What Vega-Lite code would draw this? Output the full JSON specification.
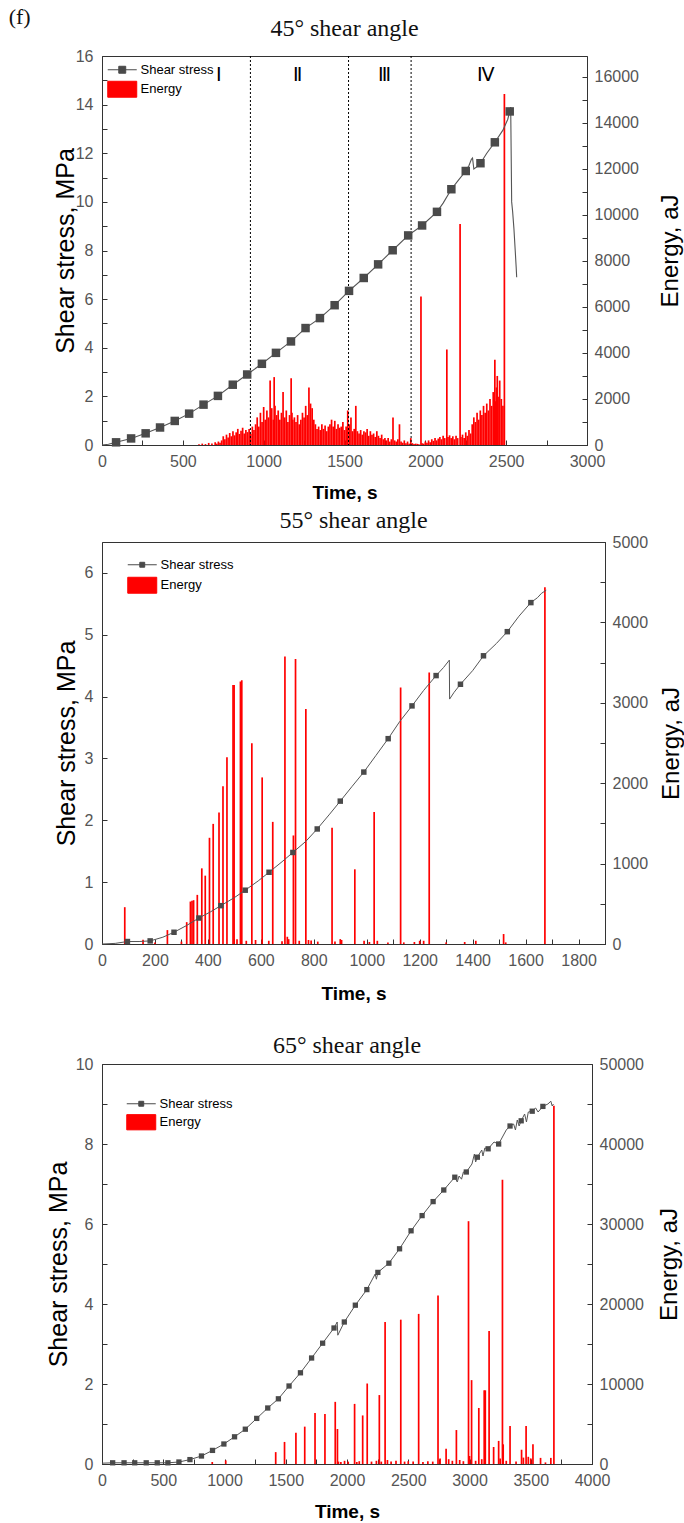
{
  "$schema": "https://vega.github.io/schema/vega-lite/v6.json",
  "background": "white",
  "padding": {"left": 8, "top": 5, "right": 0, "bottom": 0},
  "title": {"text": "(f)", "anchor": "start", "offset": -12, "dx": -37, "fontSize": 22, "font": "Liberation Serif", "fontWeight": "normal", "color": "#111"},
  "datasets": {
    "s1": [{"t":0,"s":0,"m":0},{"t":40,"s":0.03,"m":0},{"t":87,"s":0.11,"m":1},{"t":180,"s":0.27,"m":1},{"t":270,"s":0.48,"m":1},{"t":359,"s":0.72,"m":1},{"t":450,"s":0.99,"m":1},{"t":539,"s":1.29,"m":1},{"t":628,"s":1.66,"m":1},{"t":717,"s":2.02,"m":1},{"t":809,"s":2.48,"m":1},{"t":898,"s":2.9,"m":1},{"t":989,"s":3.34,"m":1},{"t":1076,"s":3.79,"m":1},{"t":1169,"s":4.26,"m":1},{"t":1259,"s":4.81,"m":1},{"t":1348,"s":5.22,"m":1},{"t":1439,"s":5.75,"m":1},{"t":1528,"s":6.34,"m":1},{"t":1619,"s":6.87,"m":1},{"t":1708,"s":7.43,"m":1},{"t":1798,"s":8.01,"m":1},{"t":1894,"s":8.62,"m":1},{"t":1980,"s":9.03,"m":1},{"t":2072,"s":9.59,"m":1},{"t":2110,"s":9.95,"m":0},{"t":2161,"s":10.52,"m":1},{"t":2200,"s":10.85,"m":0},{"t":2250,"s":11.27,"m":1},{"t":2270,"s":11.5,"m":0},{"t":2285,"s":11.75,"m":0},{"t":2292,"s":11.8,"m":0},{"t":2300,"s":11.35,"m":0},{"t":2320,"s":11.45,"m":0},{"t":2341,"s":11.59,"m":1},{"t":2380,"s":12.0,"m":0},{"t":2430,"s":12.45,"m":1},{"t":2480,"s":12.95,"m":0},{"t":2510,"s":13.4,"m":0},{"t":2522,"s":13.72,"m":1},{"t":2528,"s":13.9,"m":0},{"t":2534,"s":10.0,"m":0},{"t":2540,"s":9.6,"m":0},{"t":2548,"s":8.9,"m":0},{"t":2556,"s":8.0,"m":0},{"t":2562,"s":7.3,"m":0},{"t":2565,"s":6.9,"m":0}],
    "e1": [{"t":600,"E":30},{"t":620,"E":60},{"t":640,"E":40},{"t":660,"E":90},{"t":680,"E":70},{"t":700,"E":120},{"t":710,"E":60},{"t":720,"E":150},{"t":730,"E":100},{"t":740,"E":200},{"t":750,"E":380},{"t":760,"E":250},{"t":770,"E":450},{"t":780,"E":330},{"t":790,"E":520},{"t":800,"E":380},{"t":810,"E":600},{"t":820,"E":420},{"t":830,"E":550},{"t":840,"E":700},{"t":850,"E":480},{"t":860,"E":620},{"t":870,"E":750},{"t":880,"E":500},{"t":890,"E":650},{"t":900,"E":560},{"t":910,"E":700},{"t":920,"E":480},{"t":930,"E":800},{"t":940,"E":650},{"t":950,"E":900},{"t":960,"E":1200},{"t":970,"E":800},{"t":980,"E":1400},{"t":990,"E":1000},{"t":1000,"E":1650},{"t":1010,"E":1100},{"t":1020,"E":1500},{"t":1030,"E":1200},{"t":1040,"E":2800},{"t":1045,"E":1300},{"t":1050,"E":1600},{"t":1060,"E":1100},{"t":1065,"E":2950},{"t":1070,"E":1700},{"t":1080,"E":1300},{"t":1090,"E":1500},{"t":1100,"E":1100},{"t":1110,"E":1400},{"t":1120,"E":2300},{"t":1130,"E":1200},{"t":1140,"E":1500},{"t":1150,"E":1000},{"t":1160,"E":1300},{"t":1170,"E":2900},{"t":1175,"E":1400},{"t":1180,"E":1100},{"t":1190,"E":1200},{"t":1200,"E":1000},{"t":1210,"E":1300},{"t":1220,"E":900},{"t":1230,"E":1100},{"t":1240,"E":1400},{"t":1250,"E":1200},{"t":1260,"E":1700},{"t":1270,"E":1300},{"t":1280,"E":2500},{"t":1290,"E":1800},{"t":1300,"E":1600},{"t":1310,"E":1100},{"t":1320,"E":900},{"t":1330,"E":700},{"t":1340,"E":800},{"t":1350,"E":650},{"t":1360,"E":900},{"t":1370,"E":700},{"t":1380,"E":850},{"t":1390,"E":600},{"t":1400,"E":800},{"t":1410,"E":900},{"t":1420,"E":1100},{"t":1430,"E":800},{"t":1440,"E":1050},{"t":1450,"E":700},{"t":1460,"E":900},{"t":1470,"E":750},{"t":1480,"E":800},{"t":1490,"E":1000},{"t":1500,"E":650},{"t":1510,"E":800},{"t":1520,"E":1500},{"t":1530,"E":900},{"t":1540,"E":1200},{"t":1550,"E":600},{"t":1560,"E":700},{"t":1570,"E":1700},{"t":1580,"E":600},{"t":1590,"E":500},{"t":1600,"E":650},{"t":1610,"E":450},{"t":1620,"E":600},{"t":1630,"E":550},{"t":1640,"E":700},{"t":1650,"E":400},{"t":1660,"E":600},{"t":1670,"E":450},{"t":1680,"E":500},{"t":1690,"E":350},{"t":1700,"E":600},{"t":1710,"E":400},{"t":1720,"E":300},{"t":1730,"E":450},{"t":1740,"E":250},{"t":1750,"E":300},{"t":1760,"E":200},{"t":1770,"E":300},{"t":1780,"E":150},{"t":1790,"E":250},{"t":1800,"E":1200},{"t":1810,"E":200},{"t":1820,"E":150},{"t":1830,"E":250},{"t":1840,"E":900},{"t":1850,"E":150},{"t":1860,"E":100},{"t":1870,"E":200},{"t":1880,"E":80},{"t":1890,"E":150},{"t":1900,"E":60},{"t":1910,"E":300},{"t":1920,"E":80},{"t":1930,"E":40},{"t":1940,"E":60},{"t":1950,"E":50},{"t":1960,"E":30},{"t":1973,"E":6450},{"t":1980,"E":80},{"t":1990,"E":60},{"t":2000,"E":150},{"t":2010,"E":100},{"t":2020,"E":200},{"t":2030,"E":120},{"t":2040,"E":250},{"t":2050,"E":180},{"t":2060,"E":300},{"t":2070,"E":200},{"t":2080,"E":280},{"t":2090,"E":350},{"t":2100,"E":250},{"t":2110,"E":400},{"t":2120,"E":300},{"t":2133,"E":4150},{"t":2140,"E":350},{"t":2150,"E":420},{"t":2160,"E":300},{"t":2170,"E":380},{"t":2180,"E":250},{"t":2190,"E":400},{"t":2200,"E":300},{"t":2215,"E":9600},{"t":2220,"E":350},{"t":2230,"E":450},{"t":2240,"E":300},{"t":2250,"E":550},{"t":2260,"E":400},{"t":2270,"E":650},{"t":2280,"E":500},{"t":2290,"E":900},{"t":2300,"E":1200},{"t":2310,"E":1000},{"t":2320,"E":1400},{"t":2330,"E":1100},{"t":2340,"E":1500},{"t":2350,"E":1300},{"t":2360,"E":1700},{"t":2370,"E":1400},{"t":2380,"E":1800},{"t":2390,"E":1500},{"t":2400,"E":2000},{"t":2410,"E":1700},{"t":2420,"E":2300},{"t":2430,"E":3700},{"t":2435,"E":1900},{"t":2440,"E":2500},{"t":2445,"E":3000},{"t":2450,"E":2100},{"t":2460,"E":2800},{"t":2470,"E":2000},{"t":2480,"E":1700},{"t":2489,"E":15250}],
    "div1": [{"t":918},{"t":1525},{"t":1912}],
    "lab1": [{"t":723,"s":15.2,"k":"Ⅰ"},{"t":1212,"s":15.2,"k":"Ⅱ"},{"t":1748,"s":15.2,"k":"Ⅲ"},{"t":2375,"s":15.2,"k":"Ⅳ"}],
    "s2": [{"t":0,"s":0,"m":0},{"t":50,"s":0.01,"m":0},{"t":96,"s":0.04,"m":1},{"t":140,"s":0.04,"m":0},{"t":182,"s":0.05,"m":1},{"t":230,"s":0.11,"m":0},{"t":272,"s":0.19,"m":1},{"t":320,"s":0.3,"m":0},{"t":366,"s":0.42,"m":1},{"t":410,"s":0.52,"m":0},{"t":449,"s":0.62,"m":1},{"t":500,"s":0.75,"m":0},{"t":541,"s":0.87,"m":1},{"t":590,"s":1.02,"m":0},{"t":631,"s":1.16,"m":1},{"t":680,"s":1.33,"m":0},{"t":721,"s":1.48,"m":1},{"t":770,"s":1.66,"m":0},{"t":813,"s":1.86,"m":1},{"t":860,"s":2.1,"m":0},{"t":900,"s":2.31,"m":1},{"t":945,"s":2.55,"m":0},{"t":989,"s":2.78,"m":1},{"t":1035,"s":3.05,"m":0},{"t":1081,"s":3.32,"m":1},{"t":1125,"s":3.6,"m":0},{"t":1171,"s":3.85,"m":1},{"t":1215,"s":4.1,"m":0},{"t":1262,"s":4.34,"m":1},{"t":1290,"s":4.47,"m":0},{"t":1312,"s":4.59,"m":0},{"t":1313,"s":3.96,"m":0},{"t":1330,"s":4.07,"m":0},{"t":1354,"s":4.2,"m":1},{"t":1400,"s":4.42,"m":0},{"t":1441,"s":4.66,"m":1},{"t":1490,"s":4.86,"m":0},{"t":1531,"s":5.05,"m":1},{"t":1575,"s":5.3,"m":0},{"t":1620,"s":5.52,"m":1},{"t":1645,"s":5.6,"m":0},{"t":1660,"s":5.67,"m":0},{"t":1678,"s":5.72,"m":0}],
    "e2": [{"t":86,"E":458},{"t":155,"E":54},{"t":200,"E":20},{"t":247,"E":173},{"t":300,"E":30},{"t":320,"E":272},{"t":334,"E":528},{"t":340,"E":537},{"t":346,"E":545},{"t":360,"E":611},{"t":377,"E":941},{"t":390,"E":850},{"t":406,"E":1321},{"t":420,"E":1494},{"t":442,"E":1635},{"t":457,"E":1961},{"t":472,"E":2324},{"t":495,"E":3220},{"t":499,"E":3220},{"t":510,"E":60},{"t":523,"E":3265},{"t":528,"E":3280},{"t":545,"E":40},{"t":566,"E":2497},{"t":580,"E":50},{"t":605,"E":2072},{"t":630,"E":40},{"t":645,"E":1519},{"t":680,"E":35},{"t":691,"E":3575},{"t":700,"E":90},{"t":705,"E":60},{"t":723,"E":1350},{"t":731,"E":3546},{"t":745,"E":40},{"t":770,"E":2923},{"t":780,"E":50},{"t":790,"E":45},{"t":815,"E":30},{"t":869,"E":1445},{"t":880,"E":30},{"t":900,"E":60},{"t":905,"E":50},{"t":955,"E":929},{"t":990,"E":40},{"t":1010,"E":25},{"t":1028,"E":1643},{"t":1040,"E":40},{"t":1080,"E":20},{"t":1128,"E":3191},{"t":1140,"E":20},{"t":1180,"E":25},{"t":1200,"E":40},{"t":1215,"E":40},{"t":1236,"E":3377},{"t":1300,"E":20},{"t":1370,"E":25},{"t":1412,"E":40},{"t":1517,"E":124},{"t":1525,"E":20},{"t":1673,"E":4438}],
    "s3": [{"t":0,"s":0.02,"m":0},{"t":87,"s":0.03,"m":1},{"t":180,"s":0.03,"m":1},{"t":267,"s":0.03,"m":1},{"t":361,"s":0.03,"m":1},{"t":451,"s":0.03,"m":1},{"t":538,"s":0.03,"m":1},{"t":628,"s":0.05,"m":1},{"t":718,"s":0.11,"m":1},{"t":812,"s":0.2,"m":1},{"t":902,"s":0.34,"m":1},{"t":995,"s":0.5,"m":1},{"t":1082,"s":0.68,"m":1},{"t":1170,"s":0.87,"m":1},{"t":1263,"s":1.14,"m":1},{"t":1353,"s":1.4,"m":1},{"t":1440,"s":1.63,"m":1},{"t":1527,"s":1.95,"m":1},{"t":1620,"s":2.28,"m":1},{"t":1711,"s":2.65,"m":1},{"t":1801,"s":3.02,"m":1},{"t":1894,"s":3.4,"m":1},{"t":1920,"s":3.55,"m":0},{"t":1925,"s":3.22,"m":0},{"t":1978,"s":3.55,"m":1},{"t":2068,"s":3.97,"m":1},{"t":2162,"s":4.36,"m":1},{"t":2230,"s":4.75,"m":0},{"t":2240,"s":4.62,"m":0},{"t":2252,"s":4.79,"m":1},{"t":2342,"s":5.02,"m":1},{"t":2429,"s":5.38,"m":1},{"t":2523,"s":5.83,"m":1},{"t":2613,"s":6.21,"m":1},{"t":2703,"s":6.56,"m":1},{"t":2790,"s":6.85,"m":1},{"t":2880,"s":7.17,"m":1},{"t":2900,"s":7.05,"m":0},{"t":2915,"s":7.2,"m":0},{"t":2935,"s":7.12,"m":0},{"t":2950,"s":7.3,"m":0},{"t":2974,"s":7.3,"m":1},{"t":3020,"s":7.5,"m":0},{"t":3040,"s":7.75,"m":0},{"t":3050,"s":7.55,"m":0},{"t":3064,"s":7.67,"m":1},{"t":3100,"s":7.85,"m":0},{"t":3110,"s":7.7,"m":0},{"t":3125,"s":7.9,"m":0},{"t":3152,"s":7.88,"m":1},{"t":3200,"s":8.05,"m":0},{"t":3238,"s":8.0,"m":1},{"t":3300,"s":8.35,"m":0},{"t":3331,"s":8.45,"m":1},{"t":3360,"s":8.5,"m":0},{"t":3375,"s":8.35,"m":0},{"t":3390,"s":8.6,"m":0},{"t":3405,"s":8.45,"m":0},{"t":3422,"s":8.58,"m":1},{"t":3450,"s":8.75,"m":0},{"t":3465,"s":8.55,"m":0},{"t":3480,"s":8.8,"m":0},{"t":3512,"s":8.82,"m":1},{"t":3540,"s":8.9,"m":0},{"t":3560,"s":8.8,"m":0},{"t":3599,"s":8.94,"m":1},{"t":3640,"s":9.0,"m":0},{"t":3664,"s":9.07,"m":0},{"t":3675,"s":8.95,"m":0},{"t":3685,"s":9.0,"m":0}],
    "e3": [{"t":900,"E":250},{"t":1010,"E":450},{"t":1418,"E":1486},{"t":1490,"E":2759},{"t":1583,"E":3905},{"t":1655,"E":4670},{"t":1739,"E":6368},{"t":1820,"E":6240},{"t":1904,"E":7768},{"t":1922,"E":4372},{"t":1930,"E":300},{"t":1950,"E":250},{"t":1980,"E":400},{"t":2010,"E":300},{"t":2062,"E":7514},{"t":2080,"E":250},{"t":2100,"E":350},{"t":2128,"E":6070},{"t":2165,"E":10061},{"t":2200,"E":300},{"t":2240,"E":400},{"t":2264,"E":8617},{"t":2280,"E":300},{"t":2311,"E":17744},{"t":2330,"E":500},{"t":2360,"E":300},{"t":2400,"E":400},{"t":2439,"E":18041},{"t":2470,"E":300},{"t":2500,"E":350},{"t":2540,"E":300},{"t":2585,"E":18763},{"t":2620,"E":250},{"t":2660,"E":350},{"t":2700,"E":300},{"t":2743,"E":21055},{"t":2760,"E":700},{"t":2809,"E":1910},{"t":2830,"E":600},{"t":2860,"E":400},{"t":2893,"E":4245},{"t":2920,"E":500},{"t":2950,"E":350},{"t":2992,"E":30352},{"t":3000,"E":1000},{"t":3017,"E":10485},{"t":3050,"E":400},{"t":3076,"E":7004},{"t":3100,"E":600},{"t":3120,"E":9212},{"t":3129,"E":9212},{"t":3160,"E":16640},{"t":3197,"E":2122},{"t":3238,"E":2887},{"t":3250,"E":700},{"t":3269,"E":35530},{"t":3275,"E":2462},{"t":3300,"E":400},{"t":3331,"E":4754},{"t":3380,"E":300},{"t":3425,"E":1783},{"t":3440,"E":800},{"t":3462,"E":4754},{"t":3480,"E":900},{"t":3500,"E":700},{"t":3518,"E":2462},{"t":3580,"E":764},{"t":3620,"E":200},{"t":3664,"E":764},{"t":3689,"E":44785}]
  },
  "vconcat": [
    {
      "vconcat": [
        {
          "width": 485, "height": 389,
          "title": {"text": "45° shear angle", "offset": 7},
          "encoding": {
            "x": {"field": "t", "type": "quantitative", "title": "Time, s",
              "scale": {"domain": [0, 3000], "nice": false},
              "axis": {"values": [0,250,500,750,1000,1250,1500,1750,2000,2250,2500,2750,3000], "format": "d", "labelExpr": "datum.value % 500 === 0 ? datum.label : ''", "titleFontWeight": "bold", "titleFontSize": 19, "labelPadding": 13, "titlePadding": 14}}
          },
          "layer": [
            {
              "data": {"name": "e1"},
              "mark": {"type": "rule", "strokeWidth": 1.7},
              "encoding": {
                "y": {"field": "E", "type": "quantitative", "title": "Energy, aJ",
                  "scale": {"domain": [0, 16900], "nice": false},
                  "axis": {"orient": "right", "values": [0,1000,2000,3000,4000,5000,6000,7000,8000,9000,10000,11000,12000,13000,14000,15000,16000], "format": "d", "labelExpr": "datum.value % 2000 === 0 ? datum.label : ''", "titleAngle": 270, "titleBaseline": "top", "titleFontSize": 24, "labelPadding": 12, "titlePadding": 20}},
                "y2": {"datum": 0},
                "color": {"datum": "Energy", "scale": {"domain": ["Shear stress", "Energy"], "range": ["#4a4a4a", "#ff0000"]},
                  "legend": {"title": null, "orient": "none", "legendX": 12.25, "legendY": 5.75, "symbolSize": 210, "labelOffset": 10.25, "rowPadding": 2.5, "padding": 0,
                    "encode": {"symbols": {"update": {
                      "shape": {"signal": "datum.value === 'Energy' ? 'M-2,-1.1H2V1.1H-2Z' : 'M-2,0H2M-0.48,-0.48H0.48V0.48H-0.48Z'"},
                      "fill": {"signal": "datum.value === 'Energy' ? '#ff0000' : '#4a4a4a'"},
                      "stroke": {"signal": "datum.value === 'Energy' ? '#ff0000' : '#4a4a4a'"},
                      "opacity": {"value": 1}, "fillOpacity": {"value": 1}, "strokeOpacity": {"value": 1}}}}}}
              }
            },
            {
              "data": {"name": "div1"},
              "mark": {"type": "rule", "strokeDash": [2, 2], "stroke": "#000", "strokeWidth": 1},
              "encoding": {}
            },
            {
              "encoding": {
                "y": {"field": "s", "type": "quantitative", "title": "Shear stress, MPa",
                  "scale": {"domain": [0, 16], "nice": false},
                  "axis": {"orient": "left", "values": [0,1,2,3,4,5,6,7,8,9,10,11,12,13,14,15,16], "labelExpr": "datum.value % 2 === 0 ? datum.label : ''", "titleFontSize": 25, "labelPadding": 14, "titlePadding": -3}}
              },
              "layer": [
                {"data": {"name": "s1"}, "mark": {"type": "line", "stroke": "#555555", "strokeWidth": 1.1}},
                {"data": {"name": "s1"}, "transform": [{"filter": "datum.m == 1"}], "mark": {"type": "point", "shape": "square", "filled": true, "size": 72, "opacity": 1}, "encoding": {"color": {"datum": "Shear stress"}}},
                {"data": {"name": "lab1"}, "mark": {"type": "text", "font": "Liberation Serif", "fontSize": 19, "color": "#000"}, "encoding": {"text": {"field": "k"}}}
              ]
            }
          ],
          "resolve": {"scale": {"y": "independent"}}
        },
        {
          "width": 503, "height": 402,
          "title": {"text": "55° shear angle", "offset": 1},
          "encoding": {
            "x": {"field": "t", "type": "quantitative", "title": "Time, s",
              "scale": {"domain": [0, 1900], "nice": false},
              "axis": {"values": [0,100,200,300,400,500,600,700,800,900,1000,1100,1200,1300,1400,1500,1600,1700,1800,1900], "format": "d", "labelExpr": "datum.value % 200 === 0 && datum.value < 1900 ? datum.label : ''", "titleFontWeight": "bold", "titleFontSize": 19, "labelPadding": 13, "titlePadding": 16}}
          },
          "layer": [
            {
              "data": {"name": "e2"},
              "mark": {"type": "rule", "strokeWidth": 1.7},
              "encoding": {
                "y": {"field": "E", "type": "quantitative", "title": "Energy, aJ",
                  "scale": {"domain": [0, 5000], "nice": false},
                  "axis": {"orient": "right", "values": [0,500,1000,1500,2000,2500,3000,3500,4000,4500,5000], "format": "d", "labelExpr": "datum.value % 1000 === 0 ? datum.label : ''", "titleAngle": 270, "titleBaseline": "top", "titleFontSize": 24, "labelPadding": 12, "titlePadding": 12}},
                "y2": {"datum": 0},
                "color": {"datum": "Energy", "scale": {"domain": ["Shear stress", "Energy"], "range": ["#4a4a4a", "#ff0000"]},
                  "legend": {"title": null, "orient": "none", "legendX": 32.25, "legendY": 14.75, "symbolSize": 210, "labelOffset": 10.25, "rowPadding": 3.5, "padding": 0,
                    "encode": {"symbols": {"update": {
                      "shape": {"signal": "datum.value === 'Energy' ? 'M-2,-1.1H2V1.1H-2Z' : 'M-2,0H2M-0.34,-0.34H0.34V0.34H-0.34Z'"},
                      "fill": {"signal": "datum.value === 'Energy' ? '#ff0000' : '#4a4a4a'"},
                      "stroke": {"signal": "datum.value === 'Energy' ? '#ff0000' : '#4a4a4a'"},
                      "opacity": {"value": 1}, "fillOpacity": {"value": 1}, "strokeOpacity": {"value": 1}}}}}}
              }
            },
            {
              "encoding": {
                "y": {"field": "s", "type": "quantitative", "title": "Shear stress, MPa",
                  "scale": {"domain": [0, 6.5], "nice": false},
                  "axis": {"orient": "left", "values": [0,0.5,1,1.5,2,2.5,3,3.5,4,4.5,5,5.5,6,6.5], "format": "d", "labelExpr": "datum.value % 1 === 0 ? datum.label : ''", "titleFontSize": 25, "labelPadding": 14, "titlePadding": 5}}
              },
              "layer": [
                {"data": {"name": "s2"}, "mark": {"type": "line", "stroke": "#555555", "strokeWidth": 1}},
                {"data": {"name": "s2"}, "transform": [{"filter": "datum.m == 1"}], "mark": {"type": "point", "shape": "square", "filled": true, "size": 30, "opacity": 1}, "encoding": {"color": {"datum": "Shear stress"}}}
              ]
            }
          ],
          "resolve": {"scale": {"y": "independent"}}
        }
      ],
      "spacing": 5,
      "resolve": {"scale": {"color": "independent"}, "legend": {"color": "independent"}}
    },
    {
      "width": 490, "height": 400,
      "title": {"text": "65° shear angle", "offset": -2},
      "encoding": {
        "x": {"field": "t", "type": "quantitative", "title": "Time, s",
          "scale": {"domain": [0, 4000], "nice": false},
          "axis": {"values": [0,250,500,750,1000,1250,1500,1750,2000,2250,2500,2750,3000,3250,3500,3750,4000], "format": "d", "labelExpr": "datum.value % 500 === 0 ? datum.label : ''", "titleFontWeight": "bold", "titleFontSize": 19, "labelPadding": 13, "titlePadding": 14}}
      },
      "layer": [
        {
          "data": {"name": "e3"},
          "mark": {"type": "rule", "strokeWidth": 1.7},
          "encoding": {
            "y": {"field": "E", "type": "quantitative", "title": "Energy, aJ",
              "scale": {"domain": [0, 50000], "nice": false},
              "axis": {"orient": "right", "values": [0,5000,10000,15000,20000,25000,30000,35000,40000,45000,50000], "format": "d", "labelExpr": "datum.value % 10000 === 0 ? datum.label : ''", "titleAngle": 270, "titleBaseline": "top", "titleFontSize": 24, "labelPadding": 12, "titlePadding": 14}},
            "y2": {"datum": 0},
            "color": {"datum": "Energy", "scale": {"domain": ["Shear stress", "Energy"], "range": ["#4a4a4a", "#ff0000"]},
              "legend": {"title": null, "orient": "none", "legendX": 31.25, "legendY": 31.75, "symbolSize": 210, "labelOffset": 10.25, "rowPadding": 1.5, "padding": 0,
                "encode": {"symbols": {"update": {
                  "shape": {"signal": "datum.value === 'Energy' ? 'M-2,-1.05H2V1.05H-2Z' : 'M-2,0H2M-0.34,-0.34H0.34V0.34H-0.34Z'"},
                  "fill": {"signal": "datum.value === 'Energy' ? '#ff0000' : '#4a4a4a'"},
                  "stroke": {"signal": "datum.value === 'Energy' ? '#ff0000' : '#4a4a4a'"},
                  "opacity": {"value": 1}, "fillOpacity": {"value": 1}, "strokeOpacity": {"value": 1}}}}}}
          }
        },
        {
          "encoding": {
            "y": {"field": "s", "type": "quantitative", "title": "Shear stress, MPa",
              "scale": {"domain": [0, 10], "nice": false},
              "axis": {"orient": "left", "values": [0,1,2,3,4,5,6,7,8,9,10], "labelExpr": "datum.value % 2 === 0 ? datum.label : ''", "titleFontSize": 25, "labelPadding": 14, "titlePadding": 4}}
          },
          "layer": [
            {"data": {"name": "s3"}, "mark": {"type": "line", "stroke": "#555555", "strokeWidth": 1}},
            {"data": {"name": "s3"}, "transform": [{"filter": "datum.m == 1"}], "mark": {"type": "point", "shape": "square", "filled": true, "size": 28, "opacity": 1}, "encoding": {"color": {"datum": "Shear stress"}}}
          ]
        }
      ],
      "resolve": {"scale": {"y": "independent"}}
    }
  ],
  "spacing": 29,
  "resolve": {"scale": {"color": "independent"}, "legend": {"color": "independent"}},
  "config": {
    "view": {"stroke": "#333333", "strokeWidth": 1},
    "axis": {"grid": false, "domainColor": "#333333", "tickColor": "#333333", "labelColor": "#555555", "labelFont": "Liberation Sans", "labelFontSize": 16, "titleFont": "Liberation Sans", "titleFontSize": 20, "titleFontWeight": "normal", "titleColor": "#000000", "tickSize": -5, "labelPadding": 12, "labelFlush": false, "labelOverlap": false},
    "title": {"font": "Liberation Serif", "fontSize": 24, "fontWeight": "normal", "color": "#111111"},
    "legend": {"labelFont": "Liberation Sans", "labelFontSize": 13, "labelColor": "#000000", "symbolStrokeWidth": 1}
  }
}
